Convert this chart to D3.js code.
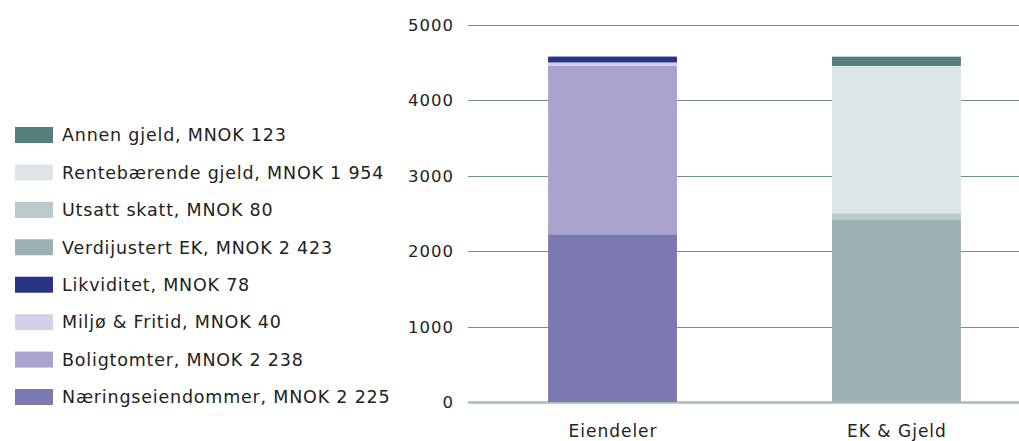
<!DOCTYPE html>
<html><head><meta charset="utf-8">
<script src="https://cdn.jsdelivr.net/npm/d3@7"></script>
<style>body{margin:0;background:#fff}svg{display:block}text{font-family:"DejaVu Sans",sans-serif;fill:#222}</style>
</head><body><svg id="c" width="1019" height="441"></svg>
<script>
const categories = ["Eiendeler", "EK & Gjeld"];
const seriesNames = ["Næringseiendommer", "Boligtomter", "Miljø & Fritid", "Likviditet", "Verdijustert EK", "Utsatt skatt", "Rentebærende gjeld", "Annen gjeld"];
const seriesCategory = ["Eiendeler", "Eiendeler", "Eiendeler", "Eiendeler", "EK & Gjeld", "EK & Gjeld", "EK & Gjeld", "EK & Gjeld"];
const seriesValues = [2225, 2238, 40, 78, 2423, 80, 1954, 123];
const legendLabels = ["Annen gjeld, MNOK 123", "Rentebærende gjeld, MNOK 1 954", "Utsatt skatt, MNOK 80", "Verdijustert EK, MNOK 2 423", "Likviditet, MNOK 78", "Miljø & Fritid, MNOK 40", "Boligtomter, MNOK 2 238", "Næringseiendommer, MNOK 2 225"];
const legendSeries = ["Annen gjeld", "Rentebærende gjeld", "Utsatt skatt", "Verdijustert EK", "Likviditet", "Miljø & Fritid", "Boligtomter", "Næringseiendommer"];
const yTicks = [0, 1000, 2000, 3000, 4000, 5000];
const colors = {
  "Næringseiendommer": "#7c78b1", "Boligtomter": "#a9a4cd", "Miljø & Fritid": "#d4d0e8", "Likviditet": "#283583",
  "Verdijustert EK": "#9bb1b2", "Utsatt skatt": "#bacbca", "Rentebærende gjeld": "#dce6e7", "Annen gjeld": "#567f7c"
};

const svg = d3.select("#c");
const W = 1019;
const x = d3.scaleBand().domain(categories).range([468, 1041]).paddingInner(0.546).paddingOuter(0.282);
const y = d3.scaleLinear().domain([0, 5000]).range([402, 25]);

svg.append("g").selectAll("line").data(yTicks).join("line")
  .attr("x1", 468).attr("x2", W)
  .attr("y1", d => Math.round(y(d)) + 0.5).attr("y2", d => Math.round(y(d)) + 0.5)
  .attr("stroke", d => d === 0 ? "#a3bbbb" : "#6f9191")
  .attr("stroke-width", d => d === 0 ? 2.5 : 1.2);

svg.append("g").selectAll("text").data(yTicks).join("text")
  .attr("x", 454).attr("y", d => y(d)).attr("dy", "0.36em")
  .attr("text-anchor", "end").attr("font-size", 16.5).attr("letter-spacing", 1).text(d => d);

const cum = {};
const rects = seriesNames.map((s, i) => {
  const c = seriesCategory[i];
  const y0 = cum[c] || 0;
  const y1 = y0 + seriesValues[i];
  cum[c] = y1;
  return {s, c, y0, y1};
});
svg.append("g").selectAll("rect").data(rects).join("rect")
  .attr("x", d => x(d.c)).attr("width", x.bandwidth())
  .attr("y", d => y(d.y1)).attr("height", d => y(d.y0) - y(d.y1))
  .attr("fill", d => colors[d.s]);

svg.append("g").selectAll("text").data(categories).join("text")
  .attr("x", d => x(d) + x.bandwidth() / 2 + 0.5).attr("y", 437)
  .attr("text-anchor", "middle").attr("font-size", 17).attr("letter-spacing", 1).text(d => d);

const ly = d3.scalePoint().domain(legendSeries).range([135, 397]);
const lg = svg.append("g").selectAll("g").data(legendSeries).join("g")
  .attr("transform", d => `translate(0,${ly(d)})`);
lg.append("rect").attr("x", 15).attr("y", -8).attr("width", 38).attr("height", 16)
  .attr("fill", d => colors[d]);
lg.append("text").attr("x", 62).attr("y", 0).attr("dy", "0.36em").attr("font-size", 17.5).attr("letter-spacing", 0.8)
  .text((d, i) => legendLabels[i]);
</script></body></html>
